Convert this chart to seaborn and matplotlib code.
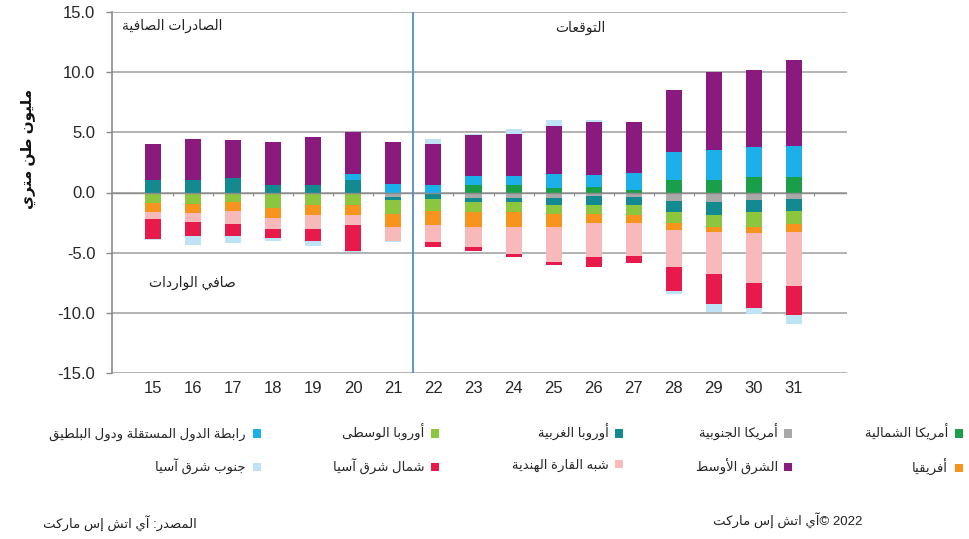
import re
import numpy as np
import seaborn as sns
import matplotlib
matplotlib.use("Agg")
import matplotlib.pyplot as plt

# --- data (million metric tonnes, net exports > 0, net imports < 0) ---
years = ['15', '16', '17', '18', '19', '20', '21', '22', '23',
         '24', '25', '26', '27', '28', '29', '30', '31']

north_america = [0, 0, 0, 0, 0, 0, 0, 0, 0.65, 0.6, 0.4, 0.45, 0.2, 1.0, 1.0, 1.3, 1.3]
south_america = [0, 0, 0, 0, 0, 0, -0.35, 0, -0.45, -0.45, -0.45, -0.33, -0.35, -0.7, -0.8, -0.65, -0.55]
western_europe = [1.0, 1.0, 1.2, 0.65, 0.65, 1.0, -0.3, -0.55, -0.35, -0.35, -0.55, -0.67, -0.65, -0.93, -1.03, -0.98, -0.95]
central_europe = [-0.9, -0.95, -0.8, -1.3, -1.0, -1.0, -1.1, -1.0, -0.85, -0.85, -0.77, -0.77, -0.83, -0.92, -1.0, -1.2, -1.15]
cis_baltic = [0, 0, 0, 0, 0, 0.55, 0.7, 0.65, 0.75, 0.8, 1.1, 1.0, 1.4, 2.35, 2.55, 2.45, 2.55]
africa = [-0.7, -0.75, -0.75, -0.8, -0.85, -0.9, -1.1, -1.15, -1.25, -1.25, -1.13, -0.78, -0.72, -0.55, -0.47, -0.55, -0.65]
middle_east = [3.0, 3.45, 3.2, 3.55, 3.95, 3.45, 3.5, 3.4, 3.35, 3.5, 4.05, 4.45, 4.25, 5.2, 6.45, 6.4, 7.15]
indian_sub = [-0.6, -0.75, -1.1, -0.9, -1.15, -0.8, -1.15, -1.45, -1.6, -2.25, -2.9, -2.85, -2.75, -3.05, -3.5, -4.17, -4.45]
ne_asia = [-1.65, -1.2, -0.95, -0.75, -1.05, -2.15, 0, -0.35, -0.4, -0.2, -0.25, -0.75, -0.55, -2.05, -2.5, -2.05, -2.45]
se_asia = [-0.1, -0.75, -0.6, -0.25, -0.4, -0.1, -0.15, 0.4, 0.15, 0.4, 0.5, 0.1, 0, -0.2, -0.65, -0.5, -0.75]

series = [
    ('أمريكا الشمالية', north_america, '#1a9e4a'),
    ('أمريكا الجنوبية', south_america, '#a9a9a9'),
    ('أوروبا الغربية', western_europe, '#138a8f'),
    ('أوروبا الوسطى', central_europe, '#8cc63f'),
    ('رابطة الدول المستقلة ودول البلطيق', cis_baltic, '#1cb0ea'),
    ('أفريقيا', africa, '#f7941d'),
    ('الشرق الأوسط', middle_east, '#8b1a7e'),
    ('شبه القارة الهندية', indian_sub, '#f7b9b9'),
    ('شمال شرق آسيا', ne_asia, '#e8194b'),
    ('جنوب شرق آسيا', se_asia, '#bfe3f6'),
]

# legend columns are read right to left in the original
legend_order = [4, 9, 3, 8, 2, 7, 1, 6, 0, 5]

# --- minimal arabic shaping (matplotlib has no complex text layout) ---
_FORMS = {}
for ch, base, n in [
    ('ء', 0xFE80, 1), ('آ', 0xFE81, 2), ('أ', 0xFE83, 2), ('ؤ', 0xFE85, 2),
    ('إ', 0xFE87, 2), ('ئ', 0xFE89, 4), ('ا', 0xFE8D, 2), ('ب', 0xFE8F, 4),
    ('ة', 0xFE93, 2), ('ت', 0xFE95, 4), ('ث', 0xFE99, 4), ('ج', 0xFE9D, 4),
    ('ح', 0xFEA1, 4), ('خ', 0xFEA5, 4), ('د', 0xFEA9, 2), ('ذ', 0xFEAB, 2),
    ('ر', 0xFEAD, 2), ('ز', 0xFEAF, 2), ('س', 0xFEB1, 4), ('ش', 0xFEB5, 4),
    ('ص', 0xFEB9, 4), ('ض', 0xFEBD, 4), ('ط', 0xFEC1, 4), ('ظ', 0xFEC5, 4),
    ('ع', 0xFEC9, 4), ('غ', 0xFECD, 4), ('ف', 0xFED1, 4), ('ق', 0xFED5, 4),
    ('ك', 0xFED9, 4), ('ل', 0xFEDD, 4), ('م', 0xFEE1, 4), ('ن', 0xFEE5, 4),
    ('ه', 0xFEE9, 4), ('و', 0xFEED, 2), ('ى', 0xFEEF, 2), ('ي', 0xFEF1, 4),
    ('لآ', 0xFEF5, 2), ('لأ', 0xFEF7, 2), ('لإ', 0xFEF9, 2), ('لا', 0xFEFB, 2),
]:
    _FORMS[ch] = (base, n)


def ar(text):
    toks = []
    i = 0
    while i < len(text):
        if text[i:i + 2] in _FORMS:
            toks.append(text[i:i + 2])
            i += 2
        else:
            toks.append(text[i])
            i += 1
    out = []
    for k, t in enumerate(toks):
        if t not in _FORMS:
            out.append(t)
            continue
        base, n = _FORMS[t]
        prev = k > 0 and toks[k - 1] in _FORMS and _FORMS[toks[k - 1]][1] == 4
        nxt = n == 4 and k + 1 < len(toks) and toks[k + 1] in _FORMS
        if n == 1:
            form = 0
        elif prev and nxt:
            form = 3
        elif prev:
            form = 1
        elif nxt:
            form = 2
        else:
            form = 0
        out.append(chr(base + form))
    vis = ''.join(out)[::-1]
    return re.sub(r'[0-9A-Za-z.]+', lambda m: m.group(0)[::-1], vis)


sns.set_theme(style='white')
plt.rcParams['font.family'] = ['Liberation Sans', 'DejaVu Sans']

fig = plt.figure(figsize=(9.69, 5.39), dpi=100)
ax = fig.add_axes([112 / 969, 1 - 373 / 539, 735 / 969, 361 / 539])

pos_base = np.zeros(len(years))
neg_base = np.zeros(len(years))
for name, vals, col in series:
    v = np.array(vals, dtype=float)
    bottom = np.where(v >= 0, pos_base, neg_base)
    sns.barplot(x=years, y=v, bottom=bottom, color=col, saturation=1,
                width=0.4, errorbar=None, linewidth=0, label=ar(name),
                ax=ax, zorder=3)
    pos_base += np.clip(v, 0, None)
    neg_base += np.clip(v, None, 0)

if ax.get_legend() is not None:
    ax.get_legend().remove()

grid_col = '#a6a6a6'
ax.set_ylim(-15, 15)
ax.set_yticks(np.arange(-15, 16, 5))
ax.set_yticklabels([f'{t:.1f}' for t in np.arange(-15, 16, 5)])
ax.yaxis.grid(True, color=grid_col, lw=1.2, zorder=0)
ax.xaxis.grid(False)
for s in ['top', 'right', 'bottom']:
    ax.spines[s].set_visible(False)
ax.spines['left'].set_color('#8c8c8c')
ax.spines['left'].set_linewidth(1.2)
ax.tick_params(axis='y', left=True, length=4, width=1, color='#8c8c8c',
               labelsize=12, pad=8, labelcolor='#262626')
ax.tick_params(axis='x', bottom=False, length=0, labelsize=12, pad=6,
               labelcolor='#262626')
ax.set_xlabel('')
ax.set_ylabel('')

# zero axis with small category-boundary ticks
ax.axhline(0, color='#8c8c8c', lw=1.0, zorder=4)
ax.vlines(np.arange(len(years)) + 0.5, -0.3, 0, color='#8c8c8c', lw=0.8, zorder=4)

# history / forecast divider
ax.axvline(6.5, color='#4f8fc6', lw=1.3, zorder=5)

ax.text(0.082, 0.962, ar('الصادرات الصافية'), transform=ax.transAxes,
        ha='center', va='center', fontsize=10, color='#222222')
ax.text(0.637, 0.955, ar('التوقعات'), transform=ax.transAxes,
        ha='center', va='center', fontsize=10, color='#222222')
ax.text(0.109, 0.25, ar('صافي الواردات'), transform=ax.transAxes,
        ha='center', va='center', fontsize=10, color='#222222')

fig.text(0.029, 0.723, ar('مليون طن متري'), rotation=90, ha='center',
         va='center', fontsize=11, fontweight='bold', color='#111111')

handles, labels = ax.get_legend_handles_labels()
fig.legend([handles[i] for i in legend_order], [labels[i] for i in legend_order],
           ncol=5, markerfirst=False, loc='center',
           bbox_to_anchor=(506 / 969, 1 - 450 / 539), frameon=False,
           fontsize=9.5, handlelength=0.6, handleheight=0.6,
           handletextpad=0.5, columnspacing=5.5, labelspacing=1.3)

fig.text(197 / 969, 1 - 524 / 539, ar('المصدر: آي اتش إس ماركت'),
         ha='right', va='center', fontsize=9.5, color='#222222')
fig.text(862 / 969, 1 - 521 / 539, ar('آي اتش إس ماركت') + '© 2022',
         ha='right', va='center', fontsize=9.5, color='#222222')

fig.savefig('out.png', dpi=100)
